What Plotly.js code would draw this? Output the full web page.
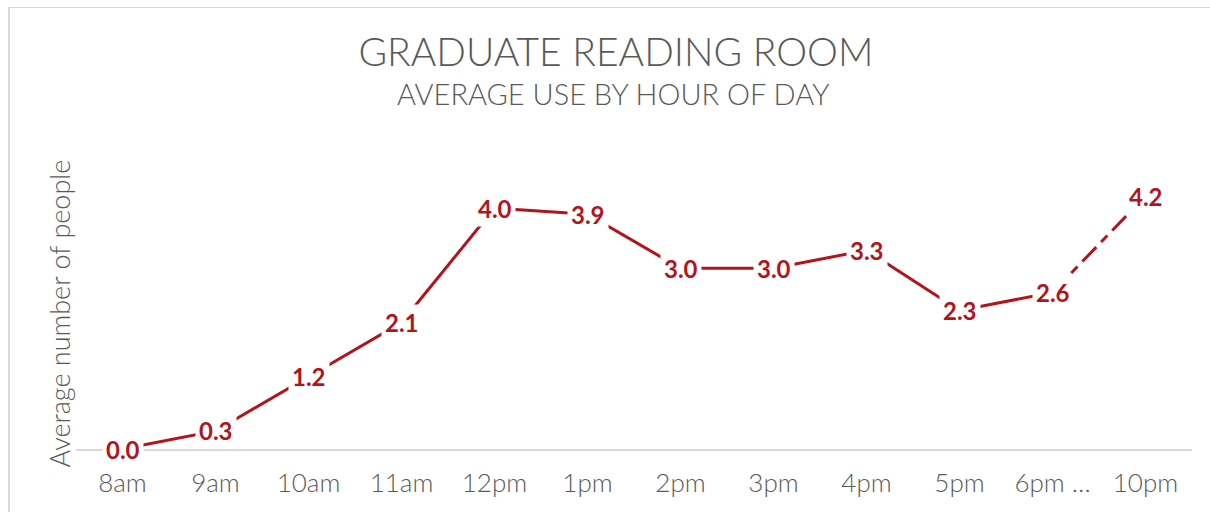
<!DOCTYPE html>
<html>
<head>
<meta charset="utf-8">
<script src="https://cdn.plot.ly/plotly-3.0.1.min.js"></script>
<style>
  html, body { margin: 0; padding: 0; width: 1210px; height: 512px; overflow: hidden; background: #fff; }
  #chart { position: absolute; left: 0; top: 0; width: 1210px; height: 512px; }
  #frame { position: absolute; left: 8px; top: 7px; width: 1400px; height: 700px;
           border-left: 2px solid #d9d9d9; border-top: 1px solid #d9d9d9; pointer-events: none; }
</style>
</head>
<body>
<div id="chart"></div>
<div id="frame"></div>
<script>
// ---- data ----
const categories = ['8am', '9am', '10am', '11am', '12pm', '1pm', '2pm', '3pm', '4pm', '5pm', '6pm …', '10pm'];
const avgPeople  = [0.0, 0.3, 1.2, 2.1, 4.0, 3.9, 3.0, 3.0, 3.3, 2.3, 2.6, 4.2];
const dashedStart = 10; // segment from "6pm …" to "10pm" is dashed
const chartTitle = 'GRADUATE READING ROOM';
const chartSubtitle = 'AVERAGE USE BY HOUR OF DAY';
const yTitle = 'Average number of people';

const red = '#B2141A';
const grey = '#595959';

const solid = {
  x: categories.slice(0, dashedStart + 1),
  y: avgPeople.slice(0, dashedStart + 1),
  type: 'scatter', mode: 'lines',
  line: { color: red, width: 3 },
  hoverinfo: 'skip', showlegend: false
};
const dashed = {
  x: categories.slice(dashedStart),
  y: avgPeople.slice(dashedStart),
  type: 'scatter', mode: 'lines',
  line: { color: red, width: 3, dash: '20px,7px,9px,7px' },
  hoverinfo: 'skip', showlegend: false
};

const labelAnnotations = categories.map((c, i) => ({
  x: c, y: avgPeople[i], xref: 'x', yref: 'y',
  text: avgPeople[i].toFixed(1),
  showarrow: false, xanchor: 'center', yanchor: 'middle',
  bgcolor: '#ffffff', borderpad: 3,
  font: { family: 'Lato', size: 24, color: red, weight: 'bold' }
}));

const layout = {
  width: 1210, height: 512,
  paper_bgcolor: '#ffffff', plot_bgcolor: '#ffffff',
  margin: { l: 76, r: 18, t: 178, b: 63 },
  title: {
    text: chartTitle, xref: 'container', yref: 'container',
    x: 0.509, y: 1 - 52 / 512, xanchor: 'center', yanchor: 'middle',
    font: { family: 'Lato', size: 39, color: grey, weight: 300 }
  },
  xaxis: {
    type: 'category', range: [-0.5, 11.5],
    showline: true, linecolor: '#d9d9d9', linewidth: 2,
    showgrid: false, zeroline: false, ticks: '',
    tickfont: { family: 'Lato', size: 26, color: grey, weight: 300 },
    ticklabelstandoff: 10, fixedrange: true
  },
  yaxis: {
    range: [0, 4.5], showticklabels: false, showgrid: false,
    zeroline: false, showline: false, ticks: '', fixedrange: true
  },
  annotations: [
    {
      text: chartSubtitle, xref: 'paper', yref: 'paper',
      x: 0.482, y: (449 - 93) / 271, xanchor: 'center', yanchor: 'middle',
      showarrow: false, font: { family: 'Lato', size: 29, color: grey, weight: 300 }
    },
    {
      text: yTitle, xref: 'paper', yref: 'paper',
      x: 0, xshift: -17, y: 0.5, xanchor: 'center', yanchor: 'middle',
      textangle: -90, showarrow: false,
      font: { family: 'Lato', size: 27, color: grey, weight: 300 }
    }
  ].concat(labelAnnotations)
};

Plotly.newPlot('chart', [solid, dashed], layout, { displayModeBar: false, staticPlot: true });
</script>
</body>
</html>
